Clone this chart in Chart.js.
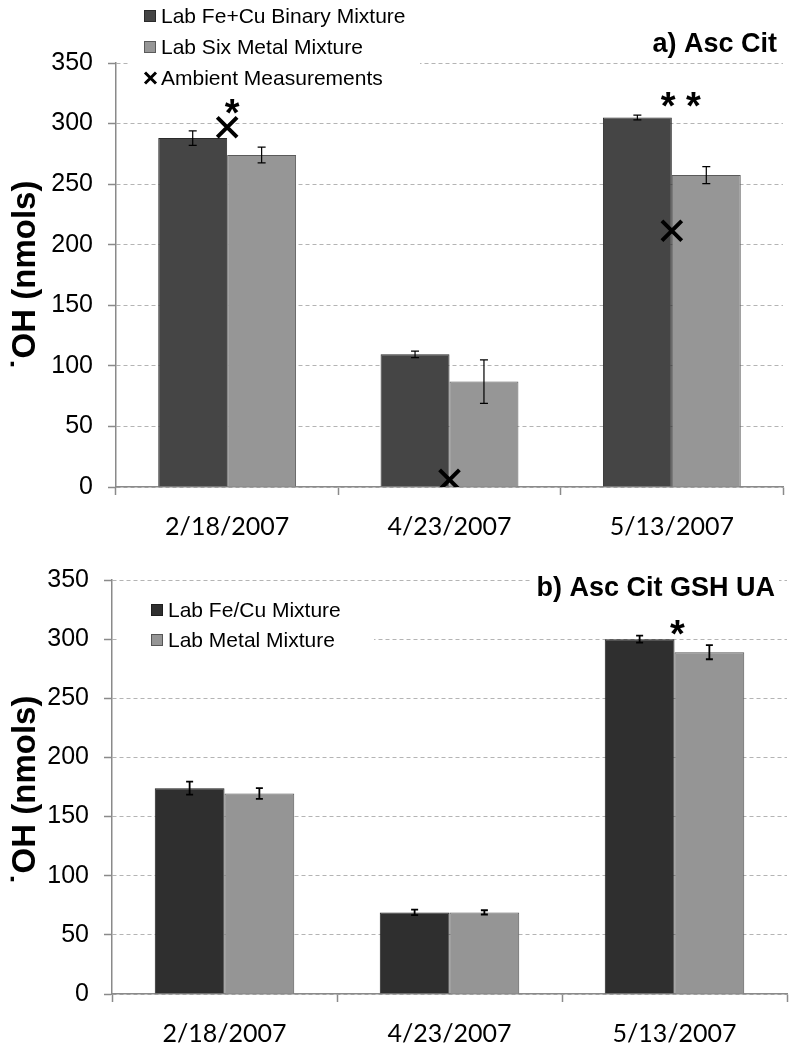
<!DOCTYPE html>
<html><head><meta charset="utf-8">
<script src="https://cdn.jsdelivr.net/npm/chart.js@4"></script>
<style>
html,body{margin:0;padding:0;background:#fff;}
#c1{position:absolute;left:0;top:0;}
#c2{position:absolute;left:0;top:545px;}
</style></head><body>
<canvas id="c1" width="801" height="545"></canvas>
<canvas id="c2" width="801" height="505"></canvas>
<script>
// ---------- data ----------
const categories = ['2/18/2007', '4/23/2007', '5/13/2007'];
const yMin = 0, yMax = 350, yStep = 50;

// Panel a) Asc Cit
const aLabels = ['Lab Fe+Cu Binary Mixture', 'Lab Six Metal Mixture', 'Ambient Measurements'];
const aBinary = [288, 109.5, 305];
const aBinaryErr = [6, 2.7, 2];
const aSix = [274, 87, 257.5];
const aSixErr = [6.5, 18, 7];
const aAmbient = [297, 6, 211.5];
const aStars = ['*', '', '* *'];
const aStarValues = [314, null, 320];

// Panel b) Asc Cit GSH UA
const bLabels = ['Lab Fe/Cu Mixture', 'Lab Metal Mixture'];
const bFeCu = [174, 69, 300];
const bFeCuErr = [5.5, 2.4, 3];
const bMetal = [169.5, 69, 289];
const bMetalErr = [4.5, 1.8, 6];
const bStars = ['', '', '*'];
const bStarValues = [null, null, 310];

const yTitle = '\u02D9OH (nmols)';
const aTitle = 'a) Asc Cit';
const bTitle = 'b) Asc Cit GSH UA';

// ---------- plugins ----------
const errorBars = {
  id: 'errorBars',
  afterDatasetsDraw(chart) {
    const ctx = chart.ctx, y = chart.scales.y;
    chart.data.datasets.forEach((ds, di) => {
      if (!ds.errors) return;
      const meta = chart.getDatasetMeta(di);
      meta.data.forEach((bar, i) => {
        const v = ds.data[i], e = ds.errors[i];
        const yt = y.getPixelForValue(v + e), yb = y.getPixelForValue(v - e);
        const cap = ds.capHalf || 3.5;
        ctx.save();
        ctx.strokeStyle = '#000';
        ctx.lineWidth = ds.errWidth || 1.2;
        ctx.beginPath();
        ctx.moveTo(bar.x, yt); ctx.lineTo(bar.x, yb);
        ctx.moveTo(bar.x - cap, yt); ctx.lineTo(bar.x + cap, yt);
        ctx.moveTo(bar.x - cap, yb); ctx.lineTo(bar.x + cap, yb);
        ctx.stroke();
        ctx.restore();
      });
    });
  }
};

const decor = {
  id: 'decor',
  afterDraw(chart, args, o) {
    const ctx = chart.ctx;
    const xs = chart.scales.x, ys = chart.scales.y;
    // asterisks
    (o.stars || []).forEach((s, i) => {
      if (!s) return;
      ctx.save();
      ctx.font = 'bold 38px "Liberation Sans", Arial, sans-serif';
      ctx.fillStyle = '#000';
      ctx.textAlign = 'center';
      ctx.textBaseline = 'alphabetic';
      const m = ctx.measureText('*');
      const cx = xs.getPixelForValue(i) + (o.starDx ? o.starDx[i] : 0);
      const cy = ys.getPixelForValue(o.starValues[i]);
      ctx.fillText(s, cx, cy + (m.actualBoundingBoxAscent - m.actualBoundingBoxDescent) / 2);
      ctx.restore();
    });
    // legend
    const L = o.legend;
    ctx.save();
    ctx.fillStyle = '#fff';
    ctx.fillRect(L.bg[0], L.bg[1], L.bg[2], L.bg[3]);
    chart.data.datasets.forEach((ds, i) => {
      const cy = L.y + i * L.gap;
      if (ds.type === 'line') {
        ctx.strokeStyle = '#000'; ctx.lineWidth = 3;
        ctx.beginPath();
        ctx.moveTo(L.x + 1, cy - 5.5); ctx.lineTo(L.x + 12, cy + 5.5);
        ctx.moveTo(L.x + 12, cy - 5.5); ctx.lineTo(L.x + 1, cy + 5.5);
        ctx.stroke();
      } else {
        ctx.fillStyle = ds.backgroundColor;
        ctx.fillRect(L.x, cy - 6, 12, 12);
        ctx.strokeStyle = ds.borderColor; ctx.lineWidth = 1;
        ctx.strokeRect(L.x + 0.5, cy - 5.5, 11, 11);
      }
      ctx.fillStyle = '#000';
      ctx.font = L.font;
      ctx.textAlign = 'left';
      ctx.textBaseline = 'middle';
      ctx.fillText(ds.label, L.x + 17, cy + 1);
    });
    // title
    const T = o.title;
    ctx.font = 'bold 27px "Liberation Sans", Arial, sans-serif';
    const tw = ctx.measureText(T.text).width;
    if (T.bg) { ctx.fillStyle = '#fff'; ctx.fillRect(T.right - tw - 6, T.y - 15, tw + 10, 30); }
    ctx.fillStyle = '#000';
    ctx.textAlign = 'right';
    ctx.textBaseline = 'middle';
    ctx.fillText(T.text, T.right, T.y);
    // y title
    ctx.translate(o.yTitle.x, o.yTitle.y);
    ctx.rotate(-Math.PI / 2);
    ctx.font = 'bold 33px "Liberation Sans", Arial, sans-serif';
    ctx.textAlign = 'center';
    ctx.textBaseline = 'middle';
    ctx.fillText(yTitle, 0, 0);
    ctx.restore();
  }
};

function scales(yWidth, xHeight) {
  return {
    x: {
      grid: { offset: true, drawOnChartArea: false, drawTicks: true, tickLength: 8, tickColor: '#8a8a8a', tickWidth: 1.5 },
      border: { display: true, color: '#8a8a8a', width: 1.5 },
      ticks: { color: '#000', padding: 17, font: { family: 'Lato, "Open Sans", sans-serif', size: 25 } },
      afterFit(s) { s.height = xHeight; }
    },
    y: {
      min: yMin, max: yMax,
      grid: { color: '#b4b4b4', lineWidth: 1, drawTicks: true, tickLength: 8, tickColor: '#8a8a8a', tickWidth: 1.5 },
      border: { display: true, color: '#8a8a8a', width: 1.5, dash: [4, 3] },
      ticks: { stepSize: yStep, color: '#000', padding: 15, font: { family: '"Liberation Sans", Arial, sans-serif', size: 25 } },
      afterFit(s) { s.width = yWidth; }
    }
  };
}

const common = {
  responsive: false,
  animation: false,
  devicePixelRatio: 1,
  events: [],
  plugins: { legend: { display: false }, tooltip: { enabled: false } }
};

new Chart(document.getElementById('c1'), {
  type: 'bar',
  data: {
    labels: categories,
    datasets: [
      { label: aLabels[0], data: aBinary, errors: aBinaryErr, backgroundColor: '#454545', borderColor: '#2a2a2a', borderWidth: 1, categoryPercentage: 0.62, barPercentage: 1.0, capHalf: 4, order: 2 },
      { label: aLabels[1], data: aSix, errors: aSixErr, backgroundColor: '#969696', borderColor: '#5a5a5a', borderWidth: 1, categoryPercentage: 0.62, barPercentage: 1.0, capHalf: 4, order: 2 },
      { type: 'line', label: aLabels[2], data: aAmbient, showLine: false, pointStyle: 'crossRot', pointRadius: 14, borderColor: '#000', borderWidth: 4, backgroundColor: '#000', order: 0 }
    ]
  },
  options: Object.assign({}, common, {
    layout: { padding: { top: 63, right: 10, left: 0, bottom: 0 } },
    scales: scales(116, 58),
    plugins: Object.assign({}, common.plugins, {
      decor: {
        stars: aStars, starValues: aStarValues, starDx: [5, 0, 9],
        legend: { x: 144, y: 16, gap: 31, font: '21px "Liberation Sans", Arial, sans-serif', bg: [128, 0, 292, 95] },
        title: { text: aTitle, right: 777, y: 45, bg: false },
        yTitle: { x: 26, y: 275 }
      }
    })
  }),
  plugins: [errorBars, decor]
});

new Chart(document.getElementById('c2'), {
  type: 'bar',
  data: {
    labels: categories,
    datasets: [
      { label: bLabels[0], data: bFeCu, errors: bFeCuErr, backgroundColor: '#2f2f2f', borderColor: '#1e1e1e', borderWidth: 1, categoryPercentage: 0.62, barPercentage: 1.0, capHalf: 3.5, errWidth: 1.8 },
      { label: bLabels[1], data: bMetal, errors: bMetalErr, backgroundColor: '#959595', borderColor: '#555', borderWidth: 1, categoryPercentage: 0.62, barPercentage: 1.0, capHalf: 3.5, errWidth: 1.8 }
    ]
  },
  options: Object.assign({}, common, {
    layout: { padding: { top: 35, right: 14, left: 0, bottom: 0 } },
    scales: scales(112, 56),
    plugins: Object.assign({}, common.plugins, {
      decor: {
        stars: bStars, starValues: bStarValues, starDx: [0, 0, 3],
        legend: { x: 151, y: 65, gap: 30, font: '21px "Liberation Sans", Arial, sans-serif', bg: [118, 45, 256, 70] },
        title: { text: bTitle, right: 775, y: 44, bg: true },
        yTitle: { x: 26, y: 245 }
      }
    })
  }),
  plugins: [errorBars, decor]
});
</script>
</body></html>
